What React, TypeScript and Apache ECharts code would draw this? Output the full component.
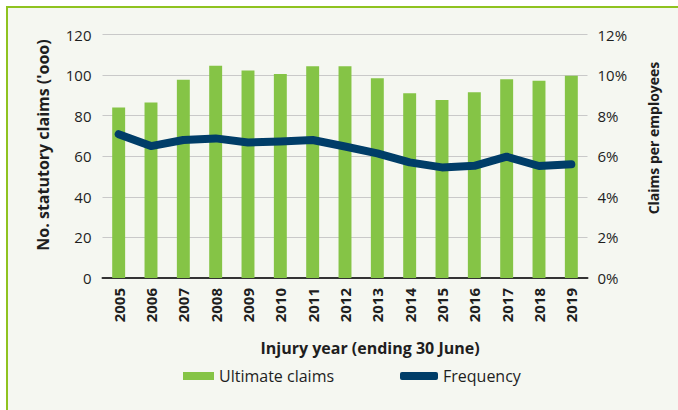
import React, { useEffect, useRef } from "react";
import * as echarts from "echarts";

const years = ["2005","2006","2007","2008","2009","2010","2011","2012","2013","2014","2015","2016","2017","2018","2019"];
const ultimateClaims = [84, 86.5, 97.7, 104.6, 102.3, 100.5, 104.3, 104.4, 98.5, 91.1, 87.7, 91.6, 98, 97.2, 99.7];
const frequency = [0.0709, 0.065, 0.068, 0.0688, 0.0668, 0.0673, 0.068, 0.0648, 0.0614, 0.057, 0.0545, 0.0553, 0.0598, 0.0552, 0.056];

const FONT = "'Open Sans', 'Noto Sans', sans-serif";
const TXT = "#1e1e1e";

export default function App() {
  const ref = useRef<HTMLDivElement>(null);
  useEffect(() => {
    if (!ref.current) return;
    const chart = echarts.init(ref.current, undefined, { renderer: "svg" });
    chart.setOption({
      animation: false,
      textStyle: { fontFamily: FONT },
      grid: { left: 102.5, right: 90.5, top: 34.5, bottom: 132 },
      graphic: [
        {
          type: "text", x: 43, y: 145, rotation: Math.PI / 2,
          style: { text: "No. statutory claims ('ooo)", fontFamily: FONT, fontSize: 16, fontWeight: "bold", fill: TXT, align: "center", verticalAlign: "middle" },
        },
        {
          type: "text", x: 653, y: 138, rotation: Math.PI / 2,
          style: { text: "Claims per employees", fontFamily: FONT, fontSize: 14, fontWeight: "bold", fill: TXT, align: "center", verticalAlign: "middle" },
        },
        {
          type: "text", x: 370, y: 348,
          style: { text: "Injury year (ending 30 June)", fontFamily: FONT, fontSize: 16, fontWeight: "bold", fill: TXT, align: "center", verticalAlign: "middle" },
        },
      ],
      legend: [
        {
          data: [{ name: "Ultimate claims", icon: "rect" }],
          left: 178, top: 363, itemWidth: 31, itemHeight: 8, itemGap: 6,
          textStyle: { fontFamily: FONT, fontSize: 16, color: TXT },
        },
        {
          data: [{ name: "Frequency", icon: "roundRect" }],
          left: 395, top: 363, itemWidth: 38, itemHeight: 8, itemGap: 6,
          textStyle: { fontFamily: FONT, fontSize: 16, color: TXT },
        },
      ],
      xAxis: {
        type: "category",
        data: years,
        axisLine: { lineStyle: { color: "#333", width: 2 } },
        axisTick: { show: false },
        axisLabel: { rotate: 90, margin: 10, fontSize: 15, fontWeight: "bold", color: TXT, fontFamily: FONT },
      },
      yAxis: [
        {
          type: "value", min: 0, max: 120, interval: 20,
          axisLine: { show: false }, axisTick: { show: false },
          axisLabel: { margin: 11, fontSize: 15, color: TXT, fontFamily: FONT },
          splitLine: { lineStyle: { color: "#c9c9c9", width: 1 } },
        },
        {
          type: "value", min: 0, max: 0.12, interval: 0.02,
          axisLine: { show: false }, axisTick: { show: false },
          axisLabel: { margin: 10, fontSize: 15, color: TXT, fontFamily: FONT, formatter: (v: number) => Math.round(v * 100) + "%" },
          splitLine: { show: false },
        },
      ],
      series: [
        {
          name: "Ultimate claims", type: "bar", data: ultimateClaims, yAxisIndex: 0,
          barCategoryGap: "60%", itemStyle: { color: "#85c446" },
        },
        {
          name: "Frequency", type: "line", data: frequency, yAxisIndex: 1,
          showSymbol: false, symbol: "none",
          lineStyle: { color: "#003d68", width: 8, cap: "round", join: "round" },
          itemStyle: { color: "#003d68" },
        },
      ],
    });
    return () => chart.dispose();
  }, []);
  return (
    <div style={{ position: "fixed", left: 0, top: 0, width: 678, height: 410, background: "#fff" }}>
      <div style={{ position: "absolute", left: 6, top: 6, right: 0, bottom: 0, background: "#f5f7f1", borderLeft: "2px solid #8fc31f", borderTop: "2px solid #8fc31f" }} />
      <div ref={ref} style={{ position: "absolute", left: 0, top: 0, width: 678, height: 410 }} />
    </div>
  );
}
